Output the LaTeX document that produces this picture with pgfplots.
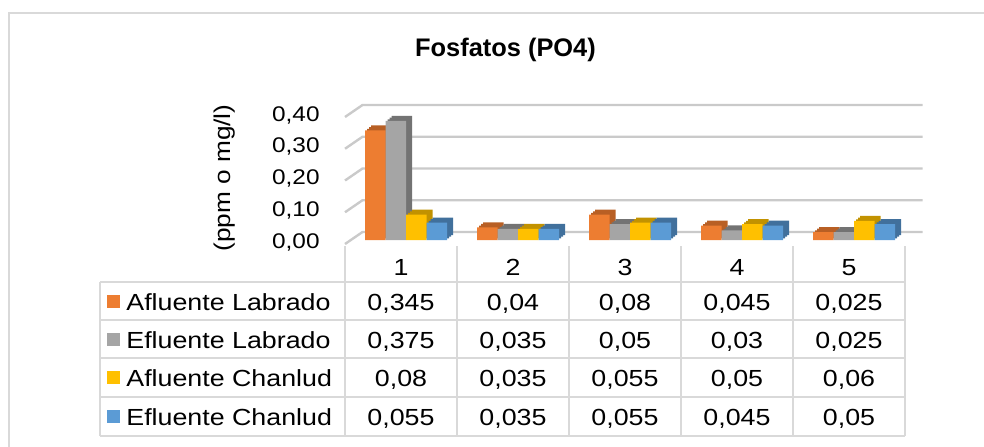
\documentclass[border=0pt]{standalone}
\usepackage{pgfplots}
\pgfplotsset{compat=1.18}
\usepackage{fontspec}
\setmainfont{Liberation Sans}
\newfontfamily\tabfont[FakeStretch=1.15]{Liberation Sans}
\definecolor{cOr}{HTML}{ED7D31}
\definecolor{cOrD}{HTML}{B85F24}
\definecolor{cGr}{HTML}{A5A5A5}
\definecolor{cGrD}{HTML}{737373}
\definecolor{cYe}{HTML}{FFC000}
\definecolor{cYeD}{HTML}{C29200}
\definecolor{cBl}{HTML}{5B9BD5}
\definecolor{cBlD}{HTML}{41709C}
\definecolor{cLine}{HTML}{D9D9D9}
\definecolor{cGrid}{HTML}{CACACA}
% #1 coordinates, #2 front colour, #3 dark colour, #4 bar shift (pt)
\newcommand\bars[4]{%
  \addplot[ybar, bar width=10.25pt, bar shift={#4pt+1pt}, yshift=0.833pt, fill=#3, draw=none] coordinates {#1};
  \addplot[ybar, bar width=10.25pt, bar shift={#4pt+2pt}, yshift=1.667pt, fill=#3, draw=none] coordinates {#1};
  \addplot[ybar, bar width=10.25pt, bar shift={#4pt+3pt}, yshift=2.5pt, fill=#3, draw=none] coordinates {#1};
  \addplot[ybar, bar width=10.25pt, bar shift={#4pt}, fill=#2, draw=none] coordinates {#1};
}
\begin{document}
\begin{tikzpicture}
\begin{scope}[x=0.5pt,y=-0.5pt]
  \useasboundingbox (0,0) rectangle (984,446);
  \draw[cLine, line width=1pt] (9,470) -- (9,13) -- (1000,13);
  \node[font=\bfseries\fontsize{12.7}{14}\selectfont] at (505.5,50) {Fosfatos (PO4)};
  \node[rotate=90, font=\tabfont\fontsize{11.4}{13}\selectfont] at (225,178) {(ppm o mg/l)};
\end{scope}
\begin{axis}[
  at={(175pt,-120pt)}, anchor=south west,
  scale only axis, width=280pt, height=63.5pt,
  xmin=0.5, xmax=5.5, ymin=0, ymax=0.4,
  clip=false,
  axis line style={draw=none}, tick style={draw=none},
  xtick=\empty, ytick={0,0.1,0.2,0.3,0.4},
  /pgf/number format/assume math mode=true,
  yticklabel style={anchor=east, inner sep=0pt, xshift=-15pt, yshift=-1pt,
    font=\tabfont\fontsize{10.6}{12}\selectfont,
    /pgf/number format/.cd, use comma, fixed, fixed zerofill, precision=2},
]
\pgfplotsinvokeforeach{0,0.1,0.2,0.3,0.4}{
  \draw[cGrid, line width=1.2pt] ([shift={(-2.5pt,-2pt)}]axis cs:0.5,#1) -- ([shift={(6.25pt,4pt)}]axis cs:0.5,#1) -- ([shift={(6.25pt,4pt)}]axis cs:5.5,#1);
}
\bars{(1,0.345) (2,0.04) (3,0.08) (4,0.045) (5,0.025)}{cOr}{cOrD}{-15.375}
\bars{(1,0.375) (2,0.035) (3,0.05) (4,0.03) (5,0.025)}{cGr}{cGrD}{-5.125}
\bars{(1,0.08) (2,0.035) (3,0.055) (4,0.05) (5,0.06)}{cYe}{cYeD}{5.125}
\bars{(1,0.055) (2,0.035) (3,0.055) (4,0.045) (5,0.05)}{cBl}{cBlD}{15.375}
\end{axis}
\begin{scope}[x=0.5pt,y=-0.5pt, font=\tabfont\fontsize{11.65}{13}\selectfont]
  \foreach \yy in {282,320,358,397,436} {\draw[cLine, line width=1pt] (100,\yy) -- (905,\yy);}
  \draw[cLine, line width=1pt] (100,282) -- (100,436);
  \foreach \xx in {345,457,569,681,793,905} {\draw[cLine, line width=1pt] (\xx,246) -- (\xx,436);}
  \foreach \k in {1,...,5} {\node[anchor=base] at ({289+112*\k},275) {\k};}
  % row 1
  \fill[cOr] (107,295) rectangle (120,308);
  \node[anchor=base west, inner sep=0pt] at (126,310) {Afluente Labrado};
  \node[anchor=base] at (401,310) {0,345};
  \node[anchor=base] at (513,310) {0,04};
  \node[anchor=base] at (625,310) {0,08};
  \node[anchor=base] at (737,310) {0,045};
  \node[anchor=base] at (849,310) {0,025};
  % row 2
  \fill[cGr] (107,333) rectangle (120,346);
  \node[anchor=base west, inner sep=0pt] at (126,348) {Efluente Labrado};
  \node[anchor=base] at (401,348) {0,375};
  \node[anchor=base] at (513,348) {0,035};
  \node[anchor=base] at (625,348) {0,05};
  \node[anchor=base] at (737,348) {0,03};
  \node[anchor=base] at (849,348) {0,025};
  % row 3
  \fill[cYe] (107,371) rectangle (120,384);
  \node[anchor=base west, inner sep=0pt] at (126,386) {Afluente Chanlud};
  \node[anchor=base] at (401,386) {0,08};
  \node[anchor=base] at (513,386) {0,035};
  \node[anchor=base] at (625,386) {0,055};
  \node[anchor=base] at (737,386) {0,05};
  \node[anchor=base] at (849,386) {0,06};
  % row 4
  \fill[cBl] (107,410) rectangle (120,423);
  \node[anchor=base west, inner sep=0pt] at (126,425) {Efluente Chanlud};
  \node[anchor=base] at (401,425) {0,055};
  \node[anchor=base] at (513,425) {0,035};
  \node[anchor=base] at (625,425) {0,055};
  \node[anchor=base] at (737,425) {0,045};
  \node[anchor=base] at (849,425) {0,05};
\end{scope}
\end{tikzpicture}
\end{document}
